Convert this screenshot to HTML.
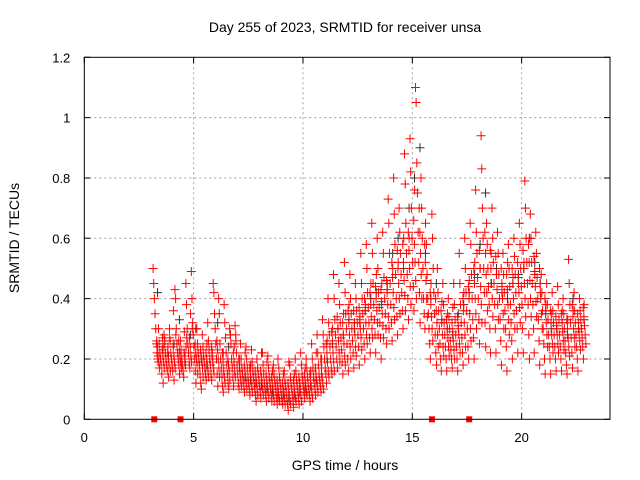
<!DOCTYPE html>
<html><head><meta charset="utf-8"><style>
body{margin:0;background:#fff;}
svg{display:block;font-family:"Liberation Sans",sans-serif;}
</style></head><body>
<svg id="chart" width="640" height="480" viewBox="0 0 640 480">
<rect width="640" height="480" fill="#fff"/>
<g id="grid"></g>
<g id="black"></g>
<g id="red"></g>
<g id="axes"></g>
<text x="345" y="32" font-size="14" text-anchor="middle">Day 255 of 2023, SRMTID for receiver unsa</text>
<text x="345" y="470" font-size="14" text-anchor="middle">GPS time / hours</text>
<text transform="translate(19,238) rotate(-90)" font-size="14" text-anchor="middle">SRMTID / TECUs</text>
</svg>
<script>
const xTicks=[0,5,10,15,20];
const yTicks=[0,0.2,0.4,0.6,0.8,1,1.2];
const yTickLabels=["0","0.2","0.4","0.6","0.8","1","1.2"];
const times=[3.25,3.5,3.75,4.0,4.25,4.5,4.75,5.0,5.25,5.5,5.75,6.0,6.25,6.5,6.75,7.0,7.25,7.5,7.75,8.0,8.25,8.5,8.75,9.0,9.25,9.5,9.75,10.0,10.25,10.5,10.75,11.0,11.25,11.5,11.75,12.0,12.25,12.5,12.75,13.0,13.25,13.5,13.75,14.0,14.25,14.5,14.75,15.0,15.25,15.5,15.75,16.0,16.25,16.5,16.75,17.0,17.25,17.5,17.75,18.0,18.25,18.5,18.75,19.0,19.25,19.5,19.75,20.0,20.25,20.5,20.75,21.0,21.25,21.5,21.75,22.0,22.25,22.5,22.75];
const redValues=[
[.50,.45,.40,.35,.30,.25,.22,.20],[.30,.25,.22,.20,.18,.15,.27,.12],[.28,.25,.22,.20,.18,.16,.24,.14],[.30,.26,.22,.20,.18,.16,.36,.13],
[.43,.40,.30,.25,.22,.20,.18,.15],[.26,.23,.20,.18,.16,.14,.29,.21],[.45,.38,.30,.25,.22,.19,.17,.35],[.49,.40,.32,.28,.24,.20,.16,.12],
[.30,.25,.22,.20,.18,.15,.12,.10],[.28,.24,.21,.19,.17,.15,.13,.25],[.32,.26,.23,.20,.18,.15,.13,.22],[.45,.42,.35,.30,.25,.20,.15,.11],
[.40,.35,.25,.20,.17,.14,.11,.09],[.38,.32,.27,.22,.18,.15,.12,.10],[.30,.28,.25,.20,.17,.14,.11,.24],[.31,.28,.22,.18,.15,.12,.10,.20],
[.25,.20,.17,.15,.13,.11,.09,.22],[.24,.20,.17,.14,.12,.10,.08,.18],[.23,.19,.16,.14,.12,.10,.08,.06],[.20,.17,.15,.13,.11,.09,.07,.22],
[.22,.18,.15,.12,.10,.08,.06,.19],[.21,.17,.14,.12,.10,.08,.06,.16],[.18,.15,.13,.11,.09,.07,.05,.20],[.17,.14,.12,.10,.08,.06,.05,.15],
[.16,.13,.11,.09,.07,.05,.03,.19],[.18,.14,.12,.10,.08,.06,.04,.15],[.20,.16,.13,.11,.09,.07,.05,.12],[.22,.18,.15,.13,.11,.09,.07,.17],
[.20,.17,.14,.12,.10,.08,.06,.16],[.25,.20,.17,.14,.12,.10,.08,.22],[.28,.22,.18,.15,.13,.11,.09,.20],[.33,.28,.24,.20,.17,.15,.12,.26],
[.40,.32,.28,.24,.20,.17,.15,.30],[.48,.40,.33,.28,.24,.20,.17,.30],[.45,.38,.32,.27,.23,.19,.15,.35],[.52,.42,.35,.30,.25,.20,.16,.38],
[.48,.40,.35,.30,.26,.22,.17,.32],[.45,.40,.36,.32,.28,.24,.18,.34],[.55,.45,.40,.35,.30,.25,.20,.38],[.58,.50,.42,.37,.32,.27,.22,.45],
[.65,.55,.45,.38,.33,.28,.22,.48],[.60,.50,.42,.37,.32,.27,.20,.45],[.62,.55,.47,.40,.35,.30,.25,.43],[.73,.65,.55,.45,.38,.32,.26,.50],
[.80,.68,.58,.48,.40,.34,.28,.52],[.70,.62,.55,.48,.42,.36,.30,.60],[.88,.78,.65,.55,.48,.40,.33,.60],[.93,.82,.70,.60,.52,.44,.36,.76],
[1.10,1.05,.85,.75,.62,.52,.42,.32],[.80,.70,.60,.50,.40,.35,.30,.65],[.58,.48,.40,.35,.30,.25,.20,.45],[.68,.60,.50,.42,.35,.28,.22,.18],
[.50,.42,.36,.30,.25,.20,.16,.39],[.45,.38,.32,.28,.24,.20,.16,.35],[.40,.34,.30,.26,.23,.20,.17,.37],[.45,.38,.33,.28,.24,.20,.16,.30],
[.55,.45,.38,.32,.27,.22,.18,.42],[.60,.50,.42,.36,.30,.24,.20,.46],[.65,.58,.48,.40,.33,.27,.20,.52],[.76,.62,.55,.47,.40,.33,.25,.50],
[.94,.83,.70,.60,.50,.42,.32,.24],[.65,.58,.50,.44,.38,.30,.22,.55],[.70,.60,.52,.45,.38,.30,.22,.48],[.62,.55,.48,.40,.33,.26,.18,.44],
[.55,.48,.42,.36,.30,.24,.16,.52],[.58,.50,.44,.38,.32,.26,.20,.47],[.60,.54,.48,.42,.36,.30,.22,.45],[.65,.58,.50,.44,.38,.30,.22,.52],
[.79,.70,.60,.52,.45,.38,.28,.20],[.68,.60,.52,.45,.38,.30,.22,.48],[.62,.55,.47,.40,.33,.26,.18,.42],[.48,.42,.36,.30,.25,.20,.15,.38],
[.45,.38,.33,.28,.24,.20,.15,.35],[.42,.36,.32,.28,.24,.20,.16,.30],[.44,.38,.33,.28,.24,.20,.16,.36],[.40,.35,.30,.26,.22,.18,.15,.33],
[.53,.45,.38,.32,.27,.22,.17,.36],[.42,.36,.32,.28,.24,.20,.16,.30],[.40,.36,.33,.30,.27,.24,.20,.38]];
const redValues2=[
[.26,.24,.21,.19,.17],[.23,.21,.19,.17,.26],[.22,.20,.18,.27,.16],[.24,.21,.19,.17,.28],
[.26,.23,.21,.19,.17],[.22,.20,.18,.24,.27],[.27,.24,.21,.19,.30],[.25,.22,.20,.18,.15],
[.23,.21,.19,.17,.14],[.22,.20,.18,.16,.14],[.24,.21,.19,.17,.15],[.26,.23,.20,.17,.14],
[.22,.19,.16,.14,.12],[.20,.18,.16,.13,.28],[.22,.19,.16,.14,.26],[.20,.17,.15,.13,.11],
[.18,.16,.14,.12,.10],[.17,.15,.13,.11,.09],[.16,.14,.12,.10,.08],[.16,.14,.12,.10,.08],
[.15,.13,.11,.09,.07],[.14,.12,.10,.08,.06],[.13,.11,.09,.07,.06],[.12,.10,.09,.07,.05],
[.12,.10,.08,.06,.05],[.13,.11,.09,.07,.06],[.14,.12,.10,.08,.06],[.15,.13,.11,.09,.08],
[.15,.13,.11,.09,.07],[.17,.15,.13,.11,.09],[.20,.17,.14,.12,.10],[.25,.22,.19,.16,.14],
[.29,.26,.22,.19,.16],[.34,.30,.26,.22,.19],[.32,.28,.25,.21,.18],[.36,.32,.28,.24,.20],
[.36,.32,.28,.24,.21],[.37,.33,.30,.27,.23],[.40,.36,.32,.28,.25],[.42,.38,.34,.30,.27],
[.44,.40,.36,.32,.28],[.43,.39,.35,.31,.27],[.46,.42,.38,.34,.30],[.52,.47,.42,.37,.33],
[.56,.50,.45,.40,.35],[.58,.52,.46,.41,.36],[.62,.56,.50,.44,.38],[.66,.58,.52,.46,.40],
[.70,.62,.55,.48,.40],[.58,.52,.46,.40,.34],[.42,.38,.34,.30,.26],[.40,.36,.32,.28,.24],
[.36,.32,.28,.24,.21],[.33,.30,.27,.24,.21],[.32,.29,.26,.23,.20],[.34,.31,.28,.25,.22],
[.40,.36,.32,.28,.24],[.44,.40,.35,.30,.26],[.50,.45,.40,.35,.30],[.56,.50,.44,.38,.32],
[.62,.55,.48,.42,.36],[.56,.50,.45,.40,.34],[.54,.48,.43,.38,.33],[.50,.45,.40,.35,.30],
[.48,.43,.38,.33,.28],[.50,.45,.40,.35,.30],[.52,.47,.42,.37,.32],[.56,.50,.45,.40,.34],
[.58,.52,.46,.40,.34],[.54,.49,.44,.39,.34],[.50,.45,.40,.35,.30],[.40,.36,.32,.28,.24],
[.36,.32,.28,.25,.22],[.34,.31,.28,.25,.22],[.35,.32,.29,.26,.23],[.33,.30,.27,.24,.21],
[.38,.34,.30,.27,.24],[.35,.32,.29,.26,.23],[.37,.34,.31,.28,.25]];
const blackValues=[.42,.24,.21,.25,.33,.19,.28,.30,.20,.18,.21,.32,.22,.24,.19,.17,.14,.13,.12,.11,.10,.09,.08,.08,.07,.08,.09,.10,.11,.13,.15,.20,.25,.30,.28,.33,.30,.32,.36,.40,.42,.38,.45,.55,.60,.50,.70,.80,.90,.55,.40,.45,.33,.30,.28,.35,.38,.42,.48,.58,.75,.45,.50,.42,.40,.45,.48,.50,.60,.52,.45,.35,.30,.30,.32,.28,.40,.30,.33];
const lossTimes=[3.2,4.4,15.9,17.6];

const L=84.3,R=610,T=57.3,B=419.3,XMAX=24.04,YMAX=1.2;
const xs=t=>L+(R-L)*t/XMAX, ys=v=>B-(B-T)*v/YMAX;
const NS="http://www.w3.org/2000/svg";
function mk(tag,at,parent){const e=document.createElementNS(NS,tag);for(const k in at)e.setAttribute(k,at[k]);parent.appendChild(e);return e;}
const grid=document.getElementById('grid'),axes=document.getElementById('axes');
xTicks.forEach((t,i)=>{
 if(t>0){const g=mk('line',{x1:xs(t),x2:xs(t),y1:T,y2:B,stroke:'#a0a0a0','stroke-dasharray':'2,3'},grid);
 
 }
 const tk=mk('path',{d:`M${xs(t)},${B}v-6M${xs(t)},${T}v6`,stroke:'#000'},axes);
 
 
 const tx=mk('text',{x:xs(t),y:442,'font-size':13,'text-anchor':'middle'},axes);tx.textContent=String(t);
 
 
});
yTicks.forEach((v,i)=>{
 if(v>0&&v<YMAX){const g=mk('line',{x1:L,x2:R,y1:ys(v),y2:ys(v),stroke:'#a0a0a0','stroke-dasharray':'2,3'},grid);
 
 }
 const tk=mk('path',{d:`M${L},${ys(v)}h6M${R},${ys(v)}h-6`,stroke:'#000'},axes);
 
 
 const tx=mk('text',{x:L-14,y:ys(v)+5,'font-size':13,'text-anchor':'end'},axes);tx.textContent=yTickLabels[i];
 
 
});
const fr=mk('rect',{x:L,y:T,width:R-L,height:B-T,fill:'none',stroke:'#000'},axes);


function plus(g,x,y,c){return mk('path',{d:`M${x-4.5},${y}h9M${x},${y-4.5}v9`,stroke:c,'stroke-width':1,fill:'none'},g);}
const bg=document.getElementById('black');
times.forEach((t,i)=>{const p=plus(bg,xs(t+0.1),ys(blackValues[i]),'#333');
 
 });
const rg=document.getElementById('red');
times.forEach((t,i)=>{redValues[i].forEach((v,j)=>{
 const p=plus(rg,xs(t+(j-3.5)*0.03),ys(v),'#f00');
 
 });});
times.forEach((t,i)=>{redValues2[i].forEach((v,j)=>{
 const p=plus(rg,xs(t+0.125+(j-2)*0.03),ys(v),'#f00');
 
 });});
lossTimes.forEach(t=>{const r=mk('rect',{x:xs(t)-3,y:B-3,width:6,height:6,fill:'#f00'},rg);
 
 });
</script>
</body></html>
